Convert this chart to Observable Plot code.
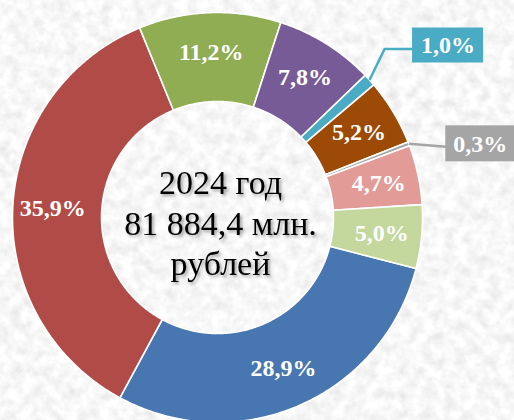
<!DOCTYPE html>
<html><head><meta charset="utf-8">
<script src="https://cdn.jsdelivr.net/npm/d3@7"></script>
<script src="https://cdn.jsdelivr.net/npm/@observablehq/plot@0.6"></script>
<style>
html,body{margin:0;padding:0;background:#efefef;}
#chart{width:514px;height:420px;}
#chart svg text{font-family:"Liberation Serif","Times New Roman",serif !important;}
</style>
</head><body><div id="chart"></div>
<script>
// ---- data ----
const categories = ["Доля 1", "Доля 2", "Доля 3", "Доля 4", "Доля 5", "Доля 6", "Доля 7", "Доля 8", "Доля 9"];
const values = [28.9, 35.9, 11.2, 7.8, 1.0, 5.2, 0.3, 4.7, 5.0];
const valueLabels = ["28,9%", "35,9%", "11,2%", "7,8%", "1,0%", "5,2%", "0,3%", "4,7%", "5,0%"];
const centerLines = ["2024 год", "81 884,4 млн.", "рублей"];
const palette = ["#4776b0", "#b14b48", "#90ad53", "#775b97", "#4aabc5", "#9d4a07", "#a5a5a5", "#e39b98", "#c4d79c"];

// ---- layout ----
const R = 205, R0 = 116, labelR = 165, startDeg = 104.4;
const a0 = startDeg * Math.PI / 180;
const pie = d3.pie().sort(null).value(d => d.value).startAngle(a0).endAngle(a0 + 2 * Math.PI);
const slices = pie(categories.map((c, i) => ({cat: c, value: values[i], label: valueLabels[i]})));
const polar = (a, rad) => ({x: Math.sin(a) * rad, y: -Math.cos(a) * rad});

const ring = slices.flatMap(s => {
  const n = Math.max(2, Math.ceil((s.endAngle - s.startAngle) / (Math.PI / 360)));
  const pts = [];
  for (let k = 0; k <= n; k++) pts.push({cat: s.data.cat, ...polar(s.startAngle + (s.endAngle - s.startAngle) * k / n, R)});
  for (let k = n; k >= 0; k--) pts.push({cat: s.data.cat, ...polar(s.startAngle + (s.endAngle - s.startAngle) * k / n, R0)});
  return pts;
});

const mid = s => (s.startAngle + s.endAngle) / 2;
const inside = slices.filter(s => s.data.value >= 2).map(s => ({label: s.data.label, ...polar(mid(s), labelR)}));

// callouts for the small slices
const calloutLayout = {
  "1,0%": {bend: [15, -31], end: [43, -31], w: 71, h: 35, dy: -3.5},
  "0,3%": {bend: null, end: [37, 3], w: 69, h: 36, dy: -3}
};
const leaders = [], boxes = [];
slices.filter(s => s.data.value < 2).forEach(s => {
  const L = calloutLayout[s.data.label];
  const p = polar(mid(s), R);
  leaders.push({cat: s.data.cat, x: p.x, y: p.y});
  if (L.bend) leaders.push({cat: s.data.cat, x: p.x + L.bend[0], y: p.y + L.bend[1]});
  const ex = p.x + L.end[0], ey = p.y + L.end[1];
  leaders.push({cat: s.data.cat, x: ex, y: ey});
  const cy = ey + L.dy;
  boxes.push({cat: s.data.cat, label: s.data.label, x1: ex, x2: ex + L.w, y1: cy - L.h / 2, y2: cy + L.h / 2, cx: ex + L.w / 2, cy});
});

const serif = "Liberation Serif";

const plot = Plot.plot({
  width: 514,
  height: 420,
  margin: 0,
  style: {background: "#efefef", overflow: "visible"},
  x: {domain: [-217, 297], range: [0, 514], axis: null},
  y: {domain: [-217, 203], range: [0, 420], axis: null},
  color: {domain: categories, range: palette},
  marks: [
    Plot.line(ring, {x: "x", y: "y", z: "cat", fill: "cat", stroke: "white", strokeWidth: 1.6, curve: "linear-closed"}),
    Plot.text(inside, {x: "x", y: "y", text: "label", fill: "white", fontSize: 24, fontWeight: "bold", fontFamily: serif}),
    Plot.line(leaders, {x: "x", y: "y", z: "cat", stroke: "cat", strokeWidth: 2.5, strokeLinecap: "butt", strokeLinejoin: "miter"}),
    Plot.rect(boxes, {x1: "x1", x2: "x2", y1: "y1", y2: "y2", fill: "cat"}),
    Plot.text(boxes, {x: "cx", y: "cy", text: "label", fill: "white", fontSize: 24, fontWeight: "bold", fontFamily: serif}),
    Plot.text([centerLines.join("\n")], {x: () => 0, y: () => 0, dx: 3, dy: 4, text: d => d, fill: "black", fontSize: 34, lineHeight: 1.2, fontFamily: serif, ariaDescription: "center"})
  ]
});

// paper texture background + soft drop shadow for the centre caption
const svg = d3.select(plot);
const defs = svg.insert("defs", ":first-child");
const f = defs.append("filter").attr("id", "txtshadow").attr("x", "-10%").attr("y", "-10%").attr("width", "130%").attr("height", "130%");
f.append("feDropShadow").attr("dx", 2).attr("dy", 2).attr("stdDeviation", 1.5).attr("flood-color", "#000").attr("flood-opacity", 0.35);
const paper = defs.append("filter").attr("id", "paper").attr("x", 0).attr("y", 0).attr("width", "100%").attr("height", "100%");
paper.append("feTurbulence").attr("type", "fractalNoise").attr("baseFrequency", 0.09).attr("numOctaves", 3).attr("seed", 7);
paper.append("feColorMatrix").attr("type", "matrix")
  .attr("values", "0.35 0 0 0 0.76  0.35 0 0 0 0.76  0.35 0 0 0 0.76  0 0 0 0 1");
svg.insert("rect", "defs + *").attr("width", 514).attr("height", 420).attr("filter", "url(#paper)");
svg.selectAll("g[aria-description='center']").attr("filter", "url(#txtshadow)");

document.getElementById("chart").appendChild(plot);
</script>
</body></html>
